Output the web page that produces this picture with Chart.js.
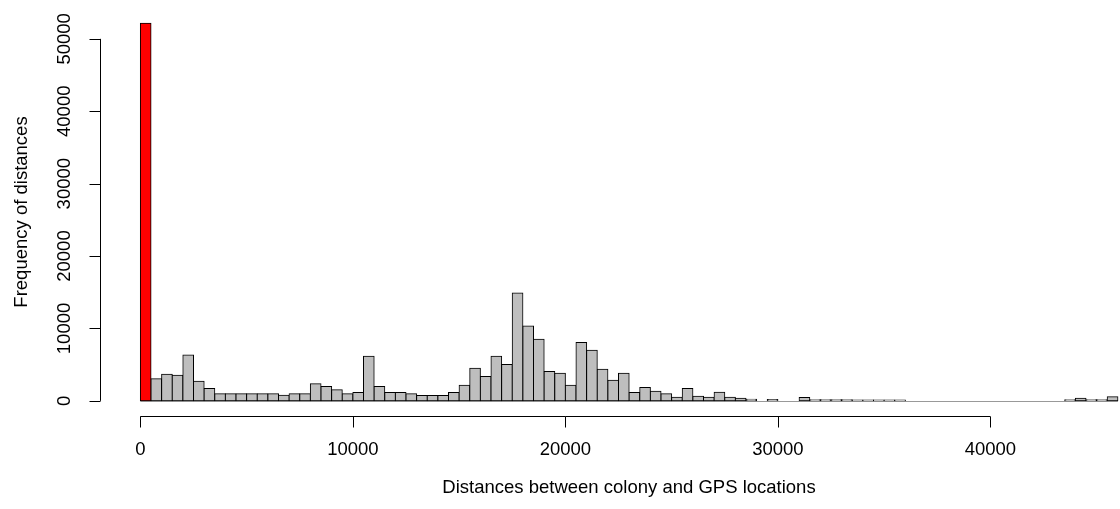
<!DOCTYPE html>
<html>
<head>
<meta charset="utf-8">
<script src="https://cdn.jsdelivr.net/npm/chart.js@4.4.1/dist/chart.umd.min.js"></script>
<style>
  html, body { margin: 0; padding: 0; background: #fff; }
  #chart { display: block; }
</style>
</head>
<body>
<canvas id="chart" width="1120" height="509"></canvas>
<script>
// --- DATA ---
// histogram bins of 500 m, starting at 0
const binStart = 0;
const binWidth = 500;
const counts = [
  52170, 3040, 3680, 3540, 6350, 2720, 1700, 970, 1000, 1000,
  1000, 1000, 1000, 790, 1000, 1000, 2350, 1980, 1520, 1000,
  1150, 6170, 1980, 1150, 1150, 1000, 740, 740, 740, 1150,
  2160, 4510, 3360, 6170, 5010, 14900, 10350, 8510, 4050, 3820,
  2160, 8050, 6990, 4370, 2850, 3820, 1150, 1840, 1330, 1000,
  510, 1700, 650, 510, 1180, 510, 370, 230, 0, 200,
  0, 0, 450, 160, 150, 140, 140, 130, 130, 120,
  120, 110, 0, 0, 0, 0, 0, 0, 0, 0,
  0, 0, 0, 0, 0, 0, 0, 140, 370, 140,
  150, 580
];
const xTicks = [0, 10000, 20000, 30000, 40000];
const yTicks = [0, 10000, 20000, 30000, 40000, 50000];
const xTitle = 'Distances between colony and GPS locations';
const yTitle = 'Frequency of distances';

// --- CHART ---
const FONT = '18.5px "Liberation Sans", Arial, sans-serif';
const points = counts.map((c, i) => ({ x: binStart + binWidth * i + binWidth / 2, y: c }));
const colours = counts.map((c, i) => i === 0 ? '#FF0000' : '#BEBEBE');

// R-style axes: detached lines with outward ticks, rotated y labels
const rAxes = {
  id: 'rAxes',
  beforeDatasetsDraw(chart) {
    // empty bins in R still leave their outline on the baseline
    const { ctx, scales: { x, y } } = chart;
    const by = Math.round(y.getPixelForValue(0)) + 0.5;
    ctx.save();
    ctx.strokeStyle = '#999';
    ctx.lineWidth = 1;
    ctx.beginPath();
    ctx.moveTo(x.getPixelForValue(binStart), by);
    ctx.lineTo(x.getPixelForValue(binStart + binWidth * counts.length), by);
    ctx.stroke();
    ctx.restore();
  },
  afterDraw(chart) {
    const { ctx, chartArea, scales: { x, y } } = chart;
    ctx.save();
    ctx.strokeStyle = '#000';
    ctx.lineWidth = 1;
    ctx.fillStyle = '#000';
    ctx.font = FONT;

    // y axis
    const ax = Math.round(chartArea.left) + 0.5;
    ctx.beginPath();
    ctx.moveTo(ax, y.getPixelForValue(yTicks[0]));
    ctx.lineTo(ax, y.getPixelForValue(yTicks[yTicks.length - 1]));
    yTicks.forEach(v => {
      const py = Math.round(y.getPixelForValue(v)) + 0.5;
      ctx.moveTo(ax, py);
      ctx.lineTo(ax - 11, py);
    });
    ctx.stroke();
    ctx.textAlign = 'center';
    ctx.textBaseline = 'middle';
    yTicks.forEach(v => {
      ctx.save();
      ctx.translate(65, y.getPixelForValue(v));
      ctx.rotate(-Math.PI / 2);
      ctx.fillText(String(v), 0, 0);
      ctx.restore();
    });

    // x axis
    const ay = Math.round(chartArea.bottom) + 0.5;
    ctx.beginPath();
    ctx.moveTo(x.getPixelForValue(xTicks[0]), ay);
    ctx.lineTo(x.getPixelForValue(xTicks[xTicks.length - 1]), ay);
    xTicks.forEach(v => {
      const px = Math.round(x.getPixelForValue(v)) + 0.5;
      ctx.moveTo(px, ay);
      ctx.lineTo(px, ay + 11);
    });
    ctx.stroke();
    xTicks.forEach(v => ctx.fillText(String(v), x.getPixelForValue(v), 450));

    // axis titles
    ctx.fillText(xTitle, 629, 488);
    ctx.save();
    ctx.translate(22, 212);
    ctx.rotate(-Math.PI / 2);
    ctx.fillText(yTitle, 0, 0);
    ctx.restore();
    ctx.restore();
  }
};

new Chart(document.getElementById('chart').getContext('2d'), {
  type: 'bar',
  data: {
    datasets: [{
      data: points,
      backgroundColor: colours,
      borderColor: '#000',
      borderWidth: 1,
      borderSkipped: false,
      inflateAmount: 0.5,
      barPercentage: 1,
      categoryPercentage: 1
    }]
  },
  options: {
    responsive: false,
    animation: false,
    layout: { padding: { left: 100, top: 8, right: 0, bottom: 93 } },
    plugins: { legend: { display: false }, tooltip: { enabled: false } },
    scales: {
      x: { type: 'linear', display: false, offset: false, min: -1900, max: 46100 },
      y: { type: 'linear', display: false, min: -2090, max: 54260 }
    }
  },
  plugins: [rAxes]
});
</script>
</body>
</html>
